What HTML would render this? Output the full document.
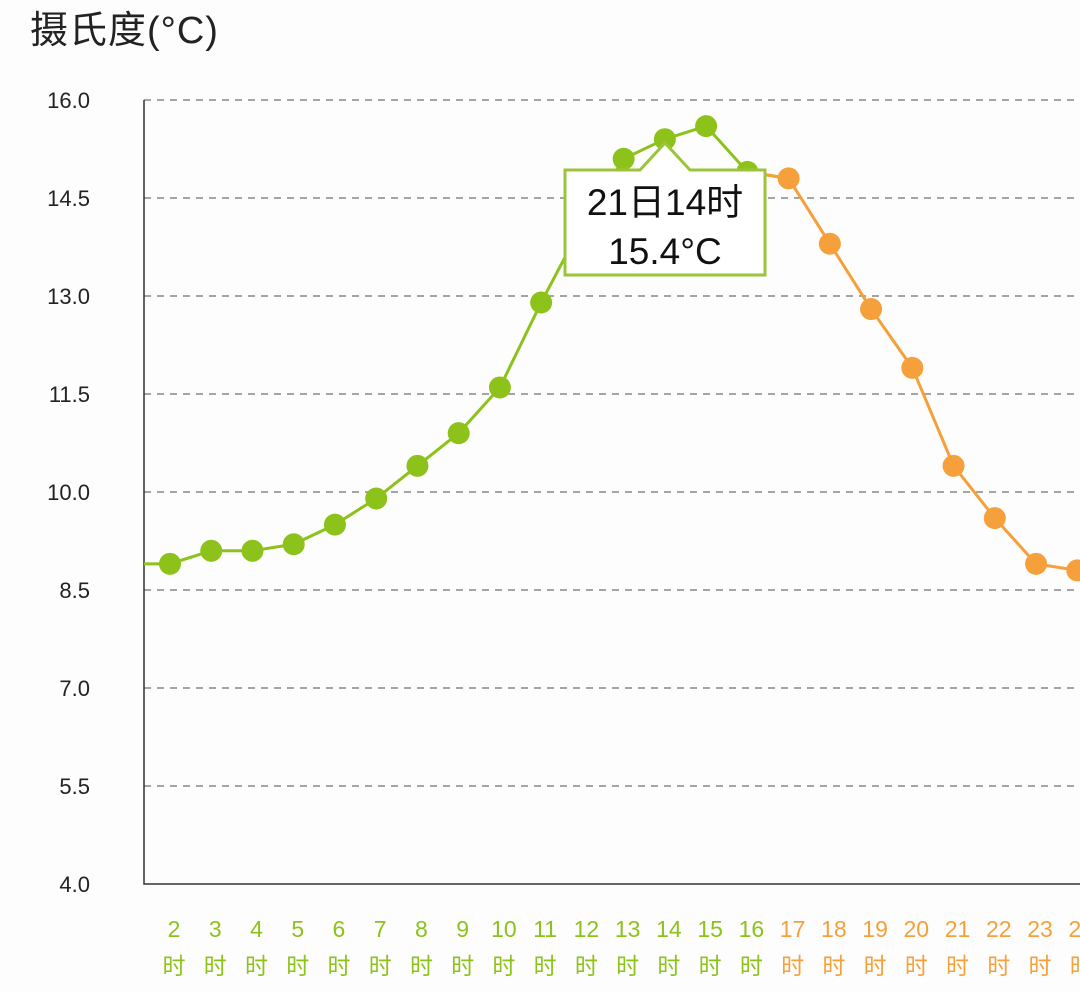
<!DOCTYPE html>
<html><head><meta charset="utf-8"><style>
body{margin:0;background:#fdfdfd;width:1080px;height:992px;overflow:hidden;font-family:"Liberation Sans","Noto Sans CJK SC",sans-serif}
</style></head><body>
<svg width="1080" height="992" style="position:absolute;left:0;top:0">
<text x="30" y="43" font-size="38" fill="#222" letter-spacing="1" font-family="Liberation Sans,Noto Sans CJK SC,sans-serif">摄氏度(°C)</text>
<g id="grid"></g><g id="lines"></g><g id="pts"></g><g id="xl"></g>
<g>
<path d="M565,170 H640 L665,143 L690,170 H765 V275 H565 Z" fill="#fff" stroke="#9bc43a" stroke-width="3"/>
<text x="665" y="215" text-anchor="middle" font-size="37" fill="#111" font-family="Liberation Sans,Noto Sans CJK SC,sans-serif">21日14时</text>
<text x="665" y="264" text-anchor="middle" font-size="37" fill="#111">15.4°C</text>
</g>
</svg>
<script>
const hours=[1,2,3,4,5,6,7,8,9,10,11,12,13,14,15,16,17,18,19,20,21,22,23,24];
const temps=[8.9,8.9,9.1,9.1,9.2,9.5,9.9,10.4,10.9,11.6,12.9,14.1,15.1,15.4,15.6,14.9,14.8,13.8,12.8,11.9,10.4,9.6,8.9,8.8];
const yTicks=[4.0,5.5,7.0,8.5,10.0,11.5,13.0,14.5,16.0];
const splitHour=17;
const NS="http://www.w3.org/2000/svg";
const x=h=>170+(h-2)*41.24, y=v=>100+(16-v)*65.33;
const G="#8cc21a",O="#f5a03a";
function mk(t,a,p){const e=document.createElementNS(NS,t);for(const k in a)e.setAttribute(k,a[k]);document.getElementById(p).appendChild(e);return e;}
yTicks.forEach(v=>{
 if(v>4){const l=mk('line',{x1:144,x2:1080,y1:y(v),y2:y(v),stroke:'#888','stroke-width':1.5,'stroke-dasharray':'7,6'},'grid');
 
 }
 const t=mk('text',{x:90,y:y(v)+8,'text-anchor':'end','font-size':22,fill:'#222'},'grid');t.textContent=v.toFixed(1);
 
 
});
const ax=mk('path',{d:'M144,100 V884 H1080',fill:'none',stroke:'#333','stroke-width':1.5},'grid');


let dg='',dor='';
hours.forEach((h,i)=>{
 if(h<=splitHour)dg+=(dg?'L':'M')+x(h)+','+y(temps[i]);
 if(h>=splitHour-1)dor+=(dor?'L':'M')+x(h)+','+y(temps[i]);
});
const clip=mk('clipPath',{id:'c'},'lines');mk('rect',{x:144,y:0,width:936,height:884},'c');
const lg=mk('path',{d:dg,fill:'none',stroke:G,'stroke-width':3,'clip-path':'url(#c)'},'lines');


const lo=mk('path',{d:dor,fill:'none',stroke:O,'stroke-width':3,'clip-path':'url(#c)'},'lines');


hours.forEach((h,i)=>{
 if(x(h)<150)return;
 const c=h<splitHour?G:O;
 const p=mk('circle',{cx:x(h),cy:y(temps[i]),r:11,fill:c},'pts');
 
 
 const t=mk('text',{x:x(h)+4,y:937,'text-anchor':'middle','font-size':23,fill:c},'xl');t.textContent=h;
 
 
 const t2=mk('text',{x:x(h)+4,y:974,'text-anchor':'middle','font-size':23,fill:c,'font-family':'Noto Sans CJK SC,sans-serif'},'xl');t2.textContent='时';
 
 
});
</script>
</body></html>
